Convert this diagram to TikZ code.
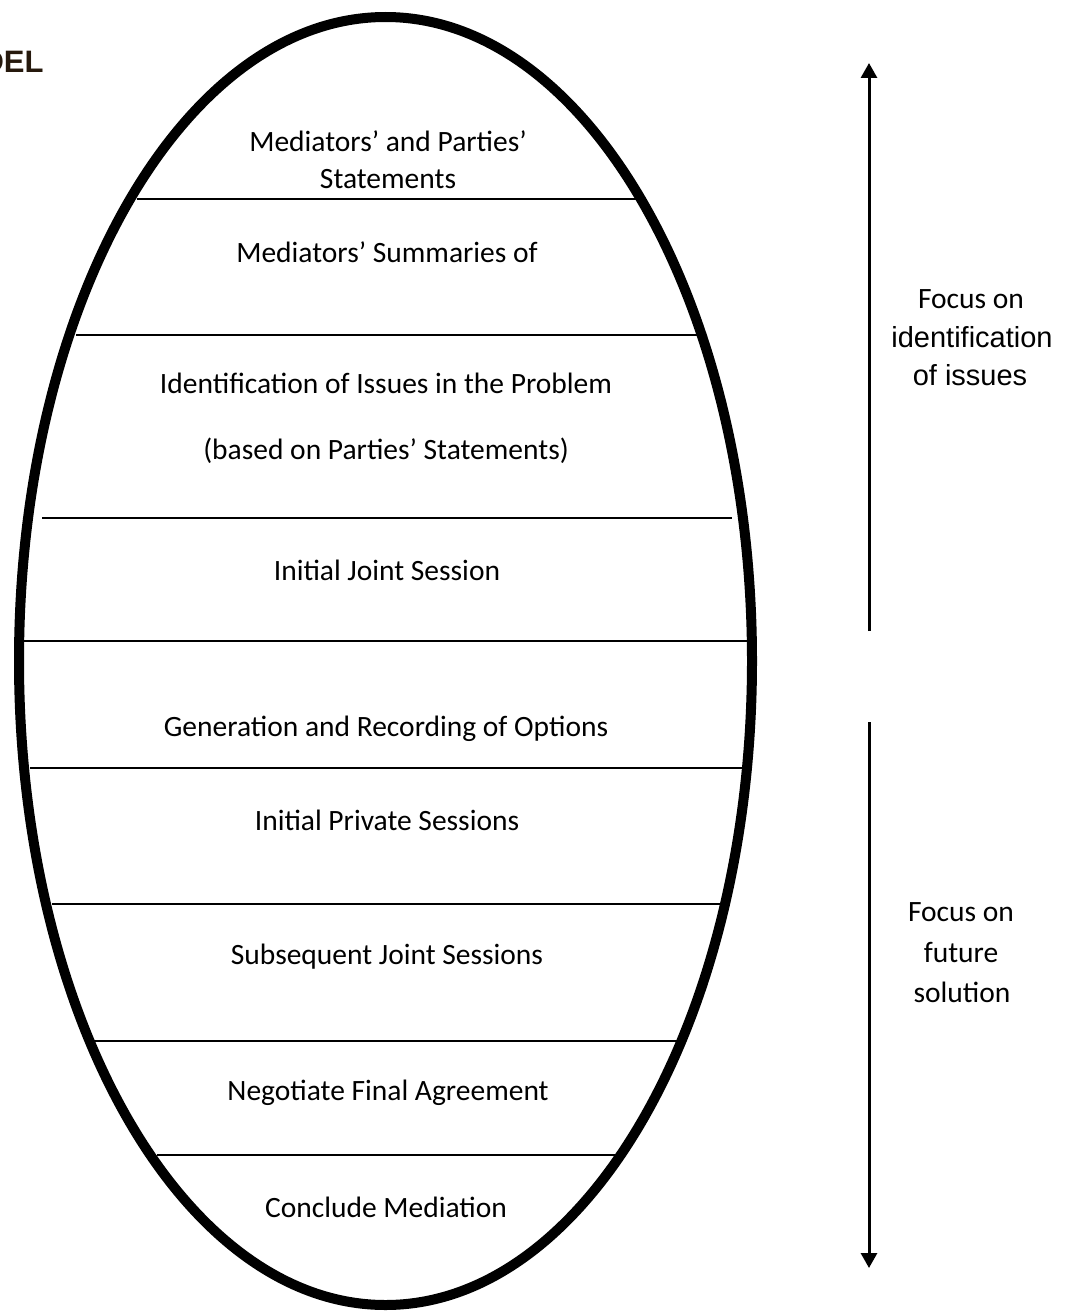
\documentclass[tikz,border=0pt]{standalone}
\usepackage{fontspec}
\setmainfont{Carlito}
\newfontfamily\arialf{Liberation Sans}
\usetikzlibrary{arrows.meta}
\begin{document}
\begin{tikzpicture}[x=0.5pt,y=-0.5pt,
  stagetext/.style={font=\fontsize{14.75}{19}\selectfont, inner sep=0pt, anchor=center},
  sidetext/.style={font=\fontsize{14.75}{19}\selectfont, inner sep=0pt, anchor=center},
  divider/.style={line width=0.8pt},
  rim/.style={line width=5pt},
  focusarrow/.style={line width=1.5pt, -{Triangle[width=8pt,length=7.5pt]}}]
\useasboundingbox (0,0) rectangle (1070,1311);
% heading fragment
\node[anchor=east, inner sep=0pt, font=\arialf\bfseries\fontsize{15.5}{18}\selectfont, text=black!80!brown] (head) at (44,62) {DEL};
% dividers
\draw[divider] (137,199) -- (636,199);
\draw[divider] (76,335) -- (697,335);
\draw[divider] (42,518) -- (732,518);
\draw[divider] (18,641) -- (748,641);
\draw[divider] (30,768) -- (745,768);
\draw[divider] (52,904) -- (723,904);
\draw[divider] (91,1041) -- (681,1041);
\draw[divider] (157,1155) -- (617,1155);
% ellipse
\draw[rim] (385.5,661) ellipse [x radius=366.5, y radius=644];
% texts
\node[stagetext] (t1a) at (388,141) {Mediators’ and Parties’};
\node[stagetext] (t1b) at (388,179) {Statements};
\node[stagetext] (t2) at (387,252) {Mediators’ Summaries of};
\node[stagetext] (t3a) at (386,383) {Identification of Issues in the Problem};
\node[stagetext] (t3b) at (386,451) {(based on Parties’ Statements)};
\node[stagetext] (t4) at (387,570) {Initial Joint Session};
\node[stagetext] (t5) at (386,729) {Generation and Recording of Options};
\node[stagetext] (t6) at (387,820) {Initial Private Sessions};
\node[stagetext] (t7) at (387,957) {Subsequent Joint Sessions};
\node[stagetext] (t8) at (388,1093) {Negotiate Final Agreement};
\node[stagetext] (t9) at (386,1207) {Conclude Mediation};
% right side
\coordinate (a1s) at (869,631);
\coordinate (a1e) at (869,63);
\coordinate (a2s) at (869,722);
\coordinate (a2e) at (869,1268);
\draw[focusarrow] (a1s) -- (a1e);
\draw[focusarrow] (a2s) -- (a2e);
\node[sidetext] (f1a) at (971,299) {Focus on};
\node[sidetext, font=\arialf\fontsize{14.5}{18}\selectfont] (f1b) at (972,337) {identification};
\node[sidetext, font=\arialf\fontsize{14.5}{18}\selectfont] (f1c) at (970,375) {of issues};
\node[sidetext] (f2a) at (961,912) {Focus on};
\node[sidetext] (f2b) at (961,952) {future};
\node[sidetext] (f2c) at (962,992) {solution};
\end{tikzpicture}
\end{document}
